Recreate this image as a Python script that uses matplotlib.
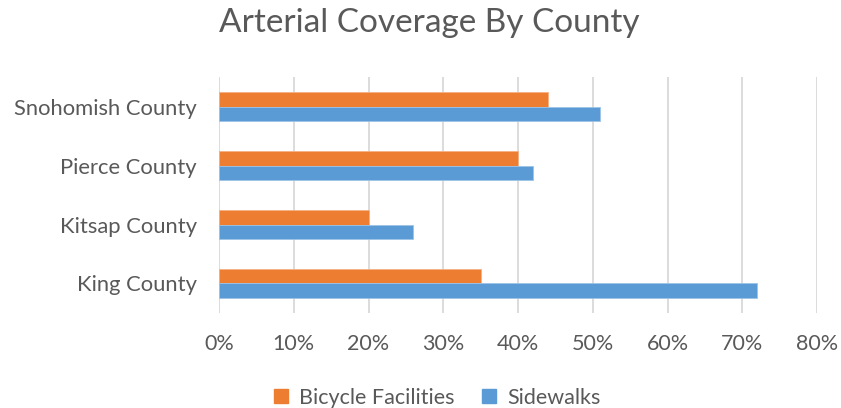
import matplotlib.pyplot as plt
import numpy as np
from matplotlib.patches import Patch
from matplotlib.ticker import PercentFormatter

counties = ["King County", "Kitsap County", "Pierce County", "Snohomish County"]
bicycle = [0.35, 0.20, 0.40, 0.44]
sidewalks = [0.72, 0.26, 0.42, 0.51]
x_ticks = [0.0, 0.1, 0.2, 0.3, 0.4, 0.5, 0.6, 0.7, 0.8]

ORANGE = "#ED7D31"
BLUE = "#5B9BD5"
TEXT = "#595959"

plt.rcParams["font.family"] = ["Lato", "DejaVu Sans"]

fig = plt.figure(figsize=(8.41, 4.08), dpi=100)
ax = fig.add_axes([0.2604, 0.233, 0.7111, 0.578])

y = np.arange(len(counties))
h = 0.25
ax.barh(y + h / 2, bicycle, height=h, color=ORANGE, edgecolor="#F4B183", linewidth=0.6,
        zorder=3)
ax.barh(y - h / 2, sidewalks, height=h, color=BLUE, edgecolor="#9DC3E6", linewidth=0.6,
        zorder=3)

ax.set_xlim(0, 0.8)
ax.set_ylim(-0.5, len(counties) - 0.5)
ax.set_xticks(x_ticks)
ax.xaxis.set_major_formatter(PercentFormatter(1.0, decimals=0))
ax.set_yticks(y)
ax.set_yticklabels(counties)
ax.tick_params(axis="x", length=0, pad=15, labelsize=15.5, labelcolor=TEXT)
ax.tick_params(axis="y", length=0, pad=16, labelsize=15.8, labelcolor=TEXT)
ax.grid(axis="x", color="#D9D9D9", linewidth=1.3, zorder=0)
for s in ax.spines.values():
    s.set_visible(False)

fig.suptitle("Arterial Coverage By County", x=0.511, fontsize=24, color=TEXT, y=0.98)

handles = [Patch(color=ORANGE, label="Bicycle Facilities"),
           Patch(color=BLUE, label="Sidewalks")]
fig.legend(handles=handles, loc="center", bbox_to_anchor=(0.52, 0.025), ncol=2,
           frameon=False, fontsize=15.5, labelcolor=TEXT, handlelength=0.65,
           handleheight=0.65, handletextpad=0.5, columnspacing=1.3)

fig.savefig("out.png", dpi=100)
